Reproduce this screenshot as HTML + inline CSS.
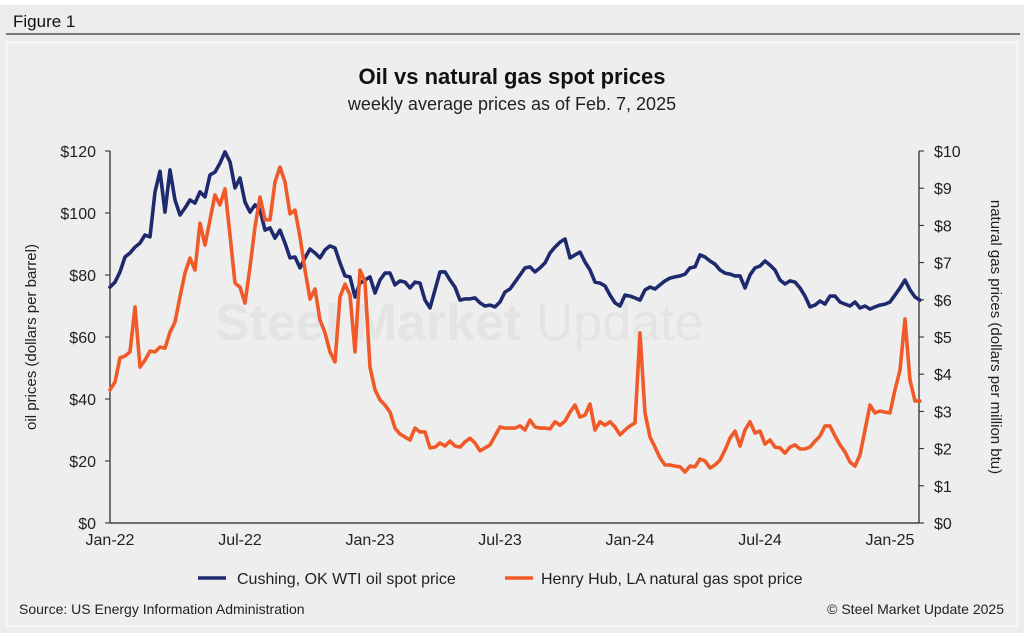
<!DOCTYPE html>
<html><head><meta charset="utf-8"><style>
body{margin:0;width:1024px;height:633px;background:#fff;overflow:hidden;font-family:"Liberation Sans",sans-serif;}
</style></head><body>
<svg width="1024" height="633" xmlns="http://www.w3.org/2000/svg" font-family="Liberation Sans, sans-serif">
<rect x="0" y="5" width="1024" height="628" fill="#ececec"/>
<text x="13" y="27" font-size="17" fill="#111">Figure 1</text>
<line x1="6" y1="34" x2="1020" y2="34" stroke="#333" stroke-width="1.2"/>
<rect x="6.5" y="42.5" width="1011" height="584" fill="#eeeeee" stroke="#fafafa" stroke-width="1.5"/>
<g opacity="0.6">
<text x="215" y="340" font-size="52" font-weight="bold" fill="#dedede">Steel Market <tspan font-weight="normal">Update</tspan></text>
</g>
<text x="512" y="84" text-anchor="middle" font-size="22" font-weight="bold" fill="#111">Oil vs natural gas spot prices</text>
<text x="512" y="110" text-anchor="middle" font-size="18" fill="#222">weekly average prices as of Feb. 7, 2025</text>
<g id="axes"></g>
<g id="series"></g>
<text transform="translate(36,337) rotate(-90)" text-anchor="middle" font-size="15" fill="#222">oil prices (dollars per barrel)</text>
<text transform="translate(991,337) rotate(90)" text-anchor="middle" font-size="15" fill="#222">natural gas prices (dollars per million btu)</text>
<g>
<g><line x1="198" y1="578" x2="226" y2="578" stroke="#1f2a6e" stroke-width="3.5"/><text x="237" y="584" font-size="16" fill="#222">Cushing, OK WTI oil spot price</text></g>
<g><line x1="505" y1="578" x2="533" y2="578" stroke="#f05a28" stroke-width="3.5"/><text x="541" y="584" font-size="16" fill="#222">Henry Hub, LA natural gas spot price</text></g>
</g>
<text x="19" y="614" font-size="14" fill="#222">Source: US Energy Information Administration</text>
<text x="1004" y="614" text-anchor="end" font-size="14" fill="#222">© Steel Market Update 2025</text>
</svg>
<script>
const oilValues=[76.1,77.7,81.0,85.8,87.1,89.0,90.3,92.9,92.3,106.8,113.5,100.3,113.9,104.2,99.4,101.6,104.2,103.2,106.8,105.2,112.3,113.2,116.1,119.7,116.5,108.1,111.3,103.5,100.3,102.6,101.0,94.5,95.2,91.9,94.5,90.3,85.5,85.8,82.3,85.5,88.4,87.1,85.5,88.1,89.4,88.7,83.9,79.7,79.4,72.9,77.4,78.4,79.4,74.2,78.4,
80.6,80.6,76.8,78.1,77.7,75.8,77.7,77.4,71.9,69.4,75.2,81.0,81.0,78.4,76.1,71.9,72.3,72.3,72.6,71.0,70.0,70.3,69.7,71.3,74.5,75.5,77.7,80.0,82.3,82.6,81.0,82.3,83.9,87.1,89.0,90.6,91.6,85.5,86.5,87.4,84.2,81.6,77.7,77.4,76.5,73.5,71.0,70.0,73.5,73.2,72.6,71.9,75.2,76.1,75.5,76.8,78.1,79.0,79.4,79.7,80.3,82.3,82.6,86.5,85.8,84.5,83.5,81.6,80.6,80.3,79.7,79.7,75.8,80.0,82.3,82.9,84.5,83.2,81.6,78.4,77.1,78.1,77.7,75.8,73.2,69.7,70.3,71.6,70.6,73.2,73.2,71.3,70.6,70.0,71.3,69.4,70.0,69.0,69.7,70.3,70.6,71.3,73.5,75.8,78.4,75.2,72.9,71.9];
const gasValues=[3.58,3.79,4.44,4.49,4.60,5.81,4.19,4.38,4.62,4.60,4.73,4.70,5.13,5.40,6.08,6.72,7.12,6.80,8.06,7.47,8.15,8.82,8.55,8.98,7.74,6.45,6.34,5.91,6.88,7.96,8.76,8.15,8.15,9.17,9.57,9.17,8.31,8.41,7.69,6.80,6.02,6.29,5.46,5.11,4.60,4.33,6.08,6.42,6.13,4.60,6.80,6.48,4.19,3.58,
3.31,3.17,2.98,2.55,2.39,2.31,2.23,2.55,2.45,2.45,2.02,2.04,2.15,2.07,2.20,2.07,2.04,2.18,2.28,2.15,1.94,2.02,2.10,2.34,2.58,2.55,2.55,2.55,2.61,2.50,2.77,2.58,2.55,2.55,2.53,2.72,2.63,2.74,2.98,3.17,2.85,2.90,3.20,2.50,2.72,2.63,2.72,2.58,2.37,2.50,2.61,2.69,5.11,2.96,2.31,2.04,1.75,1.56,1.56,1.53,1.51,1.37,1.53,1.51,1.72,1.67,1.48,1.56,1.69,1.96,2.28,2.47,2.07,2.50,2.72,2.42,2.47,2.12,2.23,2.04,2.02,1.88,2.04,2.10,1.99,1.99,2.04,2.20,2.34,2.61,2.61,2.34,2.10,1.91,1.64,1.53,1.83,2.50,3.17,2.96,3.01,2.98,2.96,3.58,4.11,5.48,3.84,3.28,3.28];
const oilTicks=["$0","$20","$40","$60","$80","$100","$120"];
const gasTicks=["$0","$1","$2","$3","$4","$5","$6","$7","$8","$9","$10"];
const dateLabels=["Jan-22","Jul-22","Jan-23","Jul-23","Jan-24","Jul-24","Jan-25"];
const dateLabelWeeks=[0,26,52,78,104,130,156];

const NS="http://www.w3.org/2000/svg";
const L=110,R=919,T=151,B=523;
const xs=w=>L+w*5;
const yOil=v=>B-(v/120)*(B-T);
const yGas=v=>B-(v/10)*(B-T);
function mk(tag,attrs,parent){const e=document.createElementNS(NS,tag);for(const k in attrs)e.setAttribute(k,attrs[k]);parent.appendChild(e);return e;}
const ax=document.getElementById('axes');
let e=mk('line',{x1:L,y1:T,x2:L,y2:B,stroke:'#222','stroke-width':1.2},ax);


e=mk('line',{x1:R,y1:T,x2:R,y2:B,stroke:'#222','stroke-width':1.2},ax);


e=mk('line',{x1:L,y1:B,x2:R,y2:B,stroke:'#222','stroke-width':1.2},ax);


oilTicks.forEach((t,i)=>{const y=yOil(i*20);
 mk('line',{x1:L-5,y1:y,x2:L,y2:y,stroke:'#222'},ax);
 const tx=mk('text',{x:L-14,y:y+6,'text-anchor':'end','font-size':16,fill:'#222'},ax);tx.textContent=t;
 
 });
gasTicks.forEach((t,i)=>{const y=yGas(i);
 mk('line',{x1:R,y1:y,x2:R+5,y2:y,stroke:'#222'},ax);
 const tx=mk('text',{x:R+15,y:y+6,'font-size':16,fill:'#222'},ax);tx.textContent=t;
 
 });
dateLabels.forEach((t,i)=>{const tx=mk('text',{x:xs(dateLabelWeeks[i]),y:545,'text-anchor':'middle','font-size':16,fill:'#222'},ax);tx.textContent=t;
 
 });
const sg=document.getElementById('series');
function line(vals,yf,color,name){
 const d=vals.map((v,i)=>(i?'L':'M')+xs(i).toFixed(1)+','+yf(v).toFixed(1)).join('');
 const p=mk('path',{d:d,fill:'none',stroke:color,'stroke-width':3.6,'stroke-linejoin':'round','stroke-linecap':'round'},sg);
 
 
}
line(oilValues,yOil,'#1f2a6e','oil-price-line');
line(gasValues,yGas,'#f05a28','gas-price-line');
</script>
</body></html>
